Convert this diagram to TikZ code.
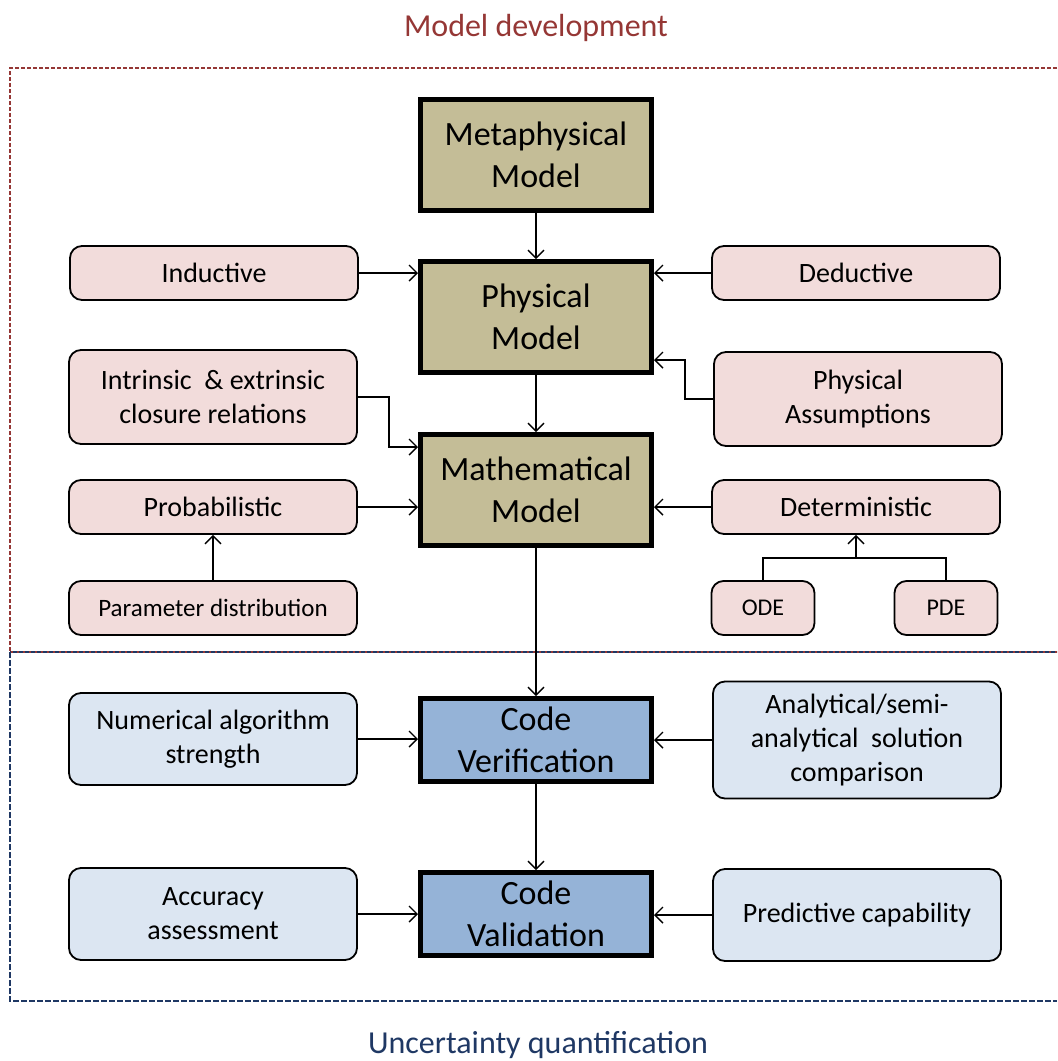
\documentclass[tikz,border=0pt]{standalone}
\usepackage{fontspec}
\setmainfont{Carlito}
\usetikzlibrary{arrows.meta}

\definecolor{khaki}{HTML}{C4BD97}
\definecolor{pinkfill}{HTML}{F2DCDB}
\definecolor{codeblue}{HTML}{95B3D7}
\definecolor{paleblue}{HTML}{DCE6F2}
\definecolor{devred}{HTML}{953735}
\definecolor{uqblue}{HTML}{1F3864}

\begin{document}
\begin{tikzpicture}
[
	x=0.5pt,y=-0.5pt,
	mainbox/.style={draw,line width=2.5pt,minimum width=115.5pt,minimum height=55.5pt,align=center,font=\fontsize{17}{21}\selectfont},
	codebox/.style={mainbox,fill=codeblue,minimum height=41.5pt},
	sidebox/.style={draw,line width=0.9pt,rounded corners=6pt,fill=pinkfill,minimum width=144pt,minimum height=27pt,align=center,font=\fontsize{14}{17}\selectfont},
	uqbox/.style={sidebox,fill=paleblue},
	arr/.style={-{Straight Barb[length=4pt,width=8pt]},line width=0.7pt}
]

	\useasboundingbox (0,0) rectangle (1057,1061);

	% frames
	\draw[devred,line width=0.6pt,dash pattern=on 2pt off 1pt] (1057,68) -- (10,68) -- (10,652) -- (1057,652);
	\draw[uqblue,line width=0.6pt,dash pattern=on 2pt off 1pt,dash phase=1.5pt] (10,652) -- (1057,652);
	\draw[uqblue,line width=0.6pt,dash pattern=on 3pt off 1pt] (10,652) -- (10,1001) -- (1057,1001);

	% titles
	\node[anchor=base,font=\fontsize{16}{19}\selectfont,text=devred] (devtitle) at (536,36) {Model development};
	\node[anchor=base,font=\fontsize{16}{19}\selectfont,text=uqblue] (uqtitle) at (538,1053) {Uncertainty quantification};

	% model column
	\node[mainbox,fill=khaki] (meta) at (536,155) {Metaphysical\\Model};
	\node[mainbox,fill=khaki] (phys) at (536,317) {Physical\\Model};
	\node[mainbox,fill=khaki] (math) at (536,490) {Mathematical\\Model};
	\node[codebox] (cver) at (536,740) {Code\\Verification};
	\node[codebox] (cval) at (536,914) {Code\\Validation};

	% left boxes
	\node[sidebox] (induct) at (214,273) {Inductive};
	\node[sidebox,minimum height=47pt] (closure) at (213,397) {Intrinsic\ \ \&\ extrinsic\\closure relations};
	\node[sidebox] (prob) at (213,507) {Probabilistic};
	\node[sidebox,font=\fontsize{12.5}{15}\selectfont] (param) at (213,608) {Parameter distribution};
	\node[uqbox,minimum height=46pt] (numalg) at (213,739) {Numerical algorithm\\strength};
	\node[uqbox,minimum height=46pt] (accur) at (213,914) {Accuracy\\assessment};

	% right boxes
	\node[sidebox] (deduct) at (856,273) {Deductive};
	\node[sidebox,minimum height=47pt] (assump) at (858,399) {Physical\\Assumptions};
	\node[sidebox] (determ) at (856,507) {Deterministic};
	\node[sidebox,minimum width=51.5pt,font=\fontsize{12}{15}\selectfont] (ode) at (763,608) {ODE};
	\node[sidebox,minimum width=51.5pt,font=\fontsize{12}{15}\selectfont] (pde) at (946,608) {PDE};
	\node[uqbox,minimum height=58.5pt] (analyt) at (857,740) {Analytical/semi-\\analytical\ \ solution\\comparison};
	\node[uqbox,minimum height=46pt] (predict) at (857,915) {Predictive capability};

	% main flow
	\draw[arr] (meta) -- (phys);
	\draw[arr] (phys) -- (math);
	\draw[arr] (math) -- (cver);
	\draw[arr] (cver) -- (cval);

	% inputs
	\draw[arr] (induct.east) -- (induct.east -| phys.west);
	\draw[arr] (deduct.west) -- (deduct.west -| phys.east);
	\draw[arr] (assump.west) -- ++(-28,0) |- ([yshift=-21.5pt]phys.east);
	\draw[arr] (closure.east) -- ++(31,0) |- ([yshift=21.5pt]math.west);
	\draw[arr] (prob.east) -- (prob.east -| math.west);
	\draw[arr] (determ.west) -- (determ.west -| math.east);
	\draw[arr] (param) -- (prob);
	\coordinate (fork) at ([yshift=-11.5pt]determ.south);
	\draw[line width=0.7pt] (ode.north) |- (fork) -| (pde.north);
	\draw[arr] (fork) -- (determ.south);
	\draw[arr] (numalg.east) -- (numalg.east -| cver.west);
	\draw[arr] (analyt.west) -- (analyt.west -| cver.east);
	\draw[arr] (accur.east) -- (accur.east -| cval.west);
	\draw[arr] (predict.west) -- (predict.west -| cval.east);

\end{tikzpicture}
\end{document}
